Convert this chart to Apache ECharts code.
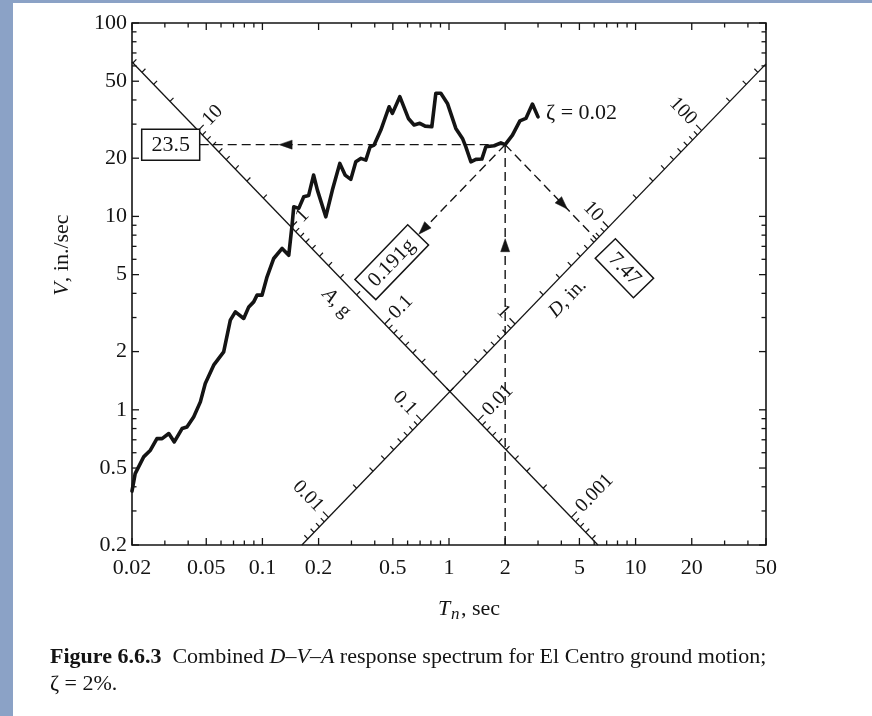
<!DOCTYPE html>
<html>
<head>
<meta charset="utf-8">
<script src="https://cdn.jsdelivr.net/npm/echarts@6.0.0/dist/echarts.min.js"></script>
<style>
html,body{margin:0;padding:0;}
body{width:872px;height:716px;background:#8ba2c6;position:relative;overflow:hidden;}
#paper{position:absolute;left:13px;top:3px;width:859px;height:713px;background:#ffffff;}
#chart{position:absolute;left:0;top:0;width:872px;height:716px;}
</style>
</head>
<body>
<div id="paper"></div>
<div id="chart"></div>
<script>
// ---- data ----
const periods = [0.02,0.0208,0.0231,0.0251,0.0272,0.0290,0.0315,0.0337,0.0371,0.0394,0.0428,0.0465,0.0494,0.0548,0.0620,0.0673,0.0716,0.0794,0.0845,0.0898,0.0936,0.0995,0.1059,0.1150,0.1275,0.1384,0.1442,0.1472,0.1566,0.1666,0.1768,0.1880,0.1971,0.2186,0.2371,0.2599,0.2775,0.2977,0.3166,0.3366,0.3582,0.3777,0.3969,0.4312,0.4775,0.4974,0.5450,0.6059,0.650,0.6977,0.745,0.809,0.850,0.904,0.981,1.088,1.181,1.231,1.310,1.393,1.500,1.576,1.746,1.897,2.0,2.188,2.399,2.583,2.80,3.0];
const velocities = [0.38,0.468,0.571,0.618,0.710,0.710,0.754,0.682,0.80,0.815,0.919,1.099,1.368,1.701,1.993,2.907,3.21,2.967,3.405,3.615,3.916,3.916,4.87,6.06,6.83,6.30,9.02,11.21,11.0,12.63,12.81,16.36,13.68,9.95,13.68,18.8,16.36,15.54,19.16,19.95,19.55,22.91,23.38,27.96,36.9,34.1,41.6,32.1,29.7,30.3,29.3,29.1,43.3,43.3,38.4,28.5,25.3,22.9,19.16,19.72,19.79,22.9,23.2,24.0,23.5,26.3,31.2,32.1,38.1,32.7];

const xTickValues = [0.02,0.05,0.1,0.2,0.5,1,2,5,10,20,50];
const xTickLabels = ['0.02','0.05','0.1','0.2','0.5','1','2','5','10','20','50'];
const xMinorTicks = [0.03,0.04,0.06,0.07,0.08,0.09,0.3,0.4,0.6,0.7,0.8,0.9,3,4,6,7,8,9,30,40];
const yTickValues = [0.2,0.5,1,2,5,10,20,50,100];
const yTickLabels = ['0.2','0.5','1','2','5','10','20','50','100'];
const yMinorTicks = [0.3,0.4,0.6,0.7,0.8,0.9,3,4,6,7,8,9,30,40,60,70,80,90];

const accelAxisD = 0.2;      // in. : constant-D line that carries the A scale
const accelMajor = [10,1,0.1,0.01,0.001];
const accelLabels = ['10','1','0.1','0.01','0.001'];
const accelMinor = [50,40,30,20,9,8,7,6,5,4,3,2,0.9,0.8,0.7,0.6,0.5,0.4,0.3,0.2,0.09,0.08,0.07,0.06,0.05,0.04,0.03,0.02,0.009,0.008,0.007,0.006,0.005,0.004,0.003,0.002,0.0009,0.0008,0.0007,0.0006];

const dispAxisA = 0.02;      // g : constant-A line that carries the D scale
const dispMajor = [0.01,0.1,1,10,100];
const dispLabels = ['0.01','0.1','1','10','100'];
const dispMinor = [0.006,0.007,0.008,0.009,0.02,0.03,0.04,0.05,0.06,0.07,0.08,0.09,0.2,0.3,0.4,0.5,0.6,0.7,0.8,0.9,2,3,4,5,6,7,8,9,20,30,40,50,60,70,80,90,200,300,400];

const markPeriod = 2;
const markVelocity = 23.5;
const markVText = '23.5';
const markAText = '0.191g';
const markDText = '7.47';
const dampingText = 'ζ = 0.02';

// ---- drawing ----
const INK = '#141414';
const SERIF = "'Liberation Serif','Times New Roman','DejaVu Serif',serif";
const G = 386.09; // in/s^2 per g
const X_MIN = 0.02, X_MAX = 50, Y_MIN = 0.2, Y_MAX = 100;

function onAccel(ag){ const w = Math.sqrt(ag*G/accelAxisD); return [2*Math.PI/w, w*accelAxisD]; }
function onDisp(d){ const w = Math.sqrt(dispAxisA*G/d); return [2*Math.PI/w, w*d]; }
function inPlot(p){ return p[0] >= X_MIN*0.995 && p[0] <= X_MAX*1.005 && p[1] >= Y_MIN*0.995 && p[1] <= Y_MAX*1.005; }

function tstyle(text, o){
  o = o || {};
  const al = o.align || 'center', va = o.va || 'middle';
  const st = {
    text: text, fill: INK, textFill: INK,
    fontSize: o.size || 20, fontFamily: SERIF, fontStyle: o.fstyle || 'normal', fontWeight: o.weight || 'normal',
    align: al, textAlign: al, verticalAlign: va, textVerticalAlign: va
  };
  if (o.rich) st.rich = o.rich;
  return st;
}
function txt(x, y, text, o){
  o = o || {};
  return {type:'text', x:x, y:y, rotation:o.rot||0, style:tstyle(text,o), silent:true, z2:10};
}
function richTok(size, fstyle, weight){
  return {fill:INK, textFill:INK, fontSize:size, fontFamily:SERIF, fontStyle:fstyle||'normal', fontWeight:weight||'normal'};
}

function renderOverlay(params, api){
  const P = (t,v) => api.coord([t,v]);
  const ch = [];
  const line = (a,b,w,dash) => ch.push({type:'line', shape:{x1:a[0],y1:a[1],x2:b[0],y2:b[1]}, style:{stroke:INK, lineWidth:w, lineDash:dash||null, fill:null}, silent:true});
  const add = (p,u,s) => [p[0]+u[0]*s, p[1]+u[1]*s];
  const unit = (a,b) => { const dx=b[0]-a[0], dy=b[1]-a[1], L=Math.hypot(dx,dy); return [dx/L, dy/L]; };
  const arrow = (tip, dir, len, hw) => {
    const base = add(tip, dir, -len), pp = [-dir[1], dir[0]];
    ch.push({type:'polygon', shape:{points:[tip, add(base,pp,hw), add(base,pp,-hw)]}, style:{fill:INK, stroke:INK, lineWidth:0.5}, silent:true});
  };
  const box = (c, w, h, rot, text, size) => {
    ch.push({type:'rect', x:c[0], y:c[1], rotation:rot, shape:{x:-w/2, y:-h/2, width:w, height:h}, style:{fill:'#ffffff', stroke:INK, lineWidth:1.5}, silent:true, z2:5});
    ch.push(txt(c[0], c[1]+1, text, {size:size, rot:rot}));
  };

  const o = P(1,1);
  const ua = unit(o, P(10,10));    // direction of constant-A lines (up-right)
  const ud = unit(o, P(10,0.1));   // direction of constant-D lines (down-right)
  const angA = Math.atan2(-ua[1], ua[0]);
  const angD = Math.atan2(ud[1], ud[0]);
  const yB = P(1,Y_MIN)[1], yT = P(1,Y_MAX)[1], xL = P(X_MIN,1)[0], xR = P(X_MAX,1)[0];

  // frame ticks and tick labels
  xTickValues.forEach((t,i) => {
    const x = P(t,1)[0];
    line([x,yB],[x,yB-7],1.3); line([x,yT],[x,yT+7],1.3);
    ch.push(txt(x, yB+23, xTickLabels[i], {size:22}));
  });
  xMinorTicks.forEach(t => { const x = P(t,1)[0]; line([x,yB],[x,yB-4.5],1.3); line([x,yT],[x,yT+4.5],1.3); });
  yTickValues.forEach((v,i) => {
    const y = P(1,v)[1];
    line([xL,y],[xL+7,y],1.3); line([xR,y],[xR-7,y],1.3);
    ch.push(txt(xL-5, y, yTickLabels[i], {size:22, align:'right'}));
  });
  yMinorTicks.forEach(v => { const y = P(1,v)[1]; line([xL,y],[xL+4.5,y],1.3); line([xR,y],[xR-4.5,y],1.3); });

  // diagonal scale lines
  const Din = accelAxisD, Ain = dispAxisA*G;
  let t1 = Math.max(X_MIN, 2*Math.PI*Din/Y_MAX), t2 = Math.min(X_MAX, 2*Math.PI*Din/Y_MIN);
  line(P(t1, 2*Math.PI*Din/t1), P(t2, 2*Math.PI*Din/t2), 1.3);
  t1 = Math.max(X_MIN, 2*Math.PI*Y_MIN/Ain); t2 = Math.min(X_MAX, 2*Math.PI*Y_MAX/Ain);
  line(P(t1, Ain*t1/(2*Math.PI)), P(t2, Ain*t2/(2*Math.PI)), 1.3);

  // A scale ticks (toward upper right) and labels
  accelMinor.forEach(a => { const tv = onAccel(a); if (!inPlot(tv)) return; const p = P(tv[0],tv[1]); line(p, add(p,ua,5), 1.2); });
  accelMajor.forEach((a,i) => {
    const tv = onAccel(a); if (!inPlot(tv)) return; const p = P(tv[0],tv[1]);
    line(p, add(p,ua,8), 1.2);
    const q = add(p, ua, 11);
    ch.push(txt(q[0], q[1], accelLabels[i], {size:20, align:'left', rot:angA}));
  });
  // D scale ticks (toward upper left) and labels
  dispMinor.forEach(d => { const tv = onDisp(d); if (!inPlot(tv)) return; const p = P(tv[0],tv[1]); line(p, add(p,ud,-5), 1.2); });
  dispMajor.forEach((d,i) => {
    const tv = onDisp(d); if (!inPlot(tv)) return; const p = P(tv[0],tv[1]);
    line(p, add(p,ud,-8), 1.2);
    const q = add(p, ud, -12);
    ch.push(txt(q[0], q[1], dispLabels[i], {size:20, align:'right', rot:-angD}));
  });
  // scale names
  let tv = onAccel(0.23), p = P(tv[0],tv[1]);
  let q = add(p, [-ud[1], ud[0]], 20);
  ch.push(txt(q[0], q[1], '{i|A}{r|, g}', {size:20, rot:-angD, rich:{i:richTok(20,'italic'), r:richTok(20)}}));
  tv = onDisp(2.56); p = P(tv[0],tv[1]);
  q = add(p, [-ua[1], ua[0]], 20);
  ch.push(txt(q[0], q[1], '{i|D}{r|, in.}', {size:20, rot:angA, rich:{i:richTok(20,'italic'), r:richTok(20)}}));

  // read-off construction for T = 2 s
  const M = P(markPeriod, markVelocity);
  const markA = markVelocity*2*Math.PI/markPeriod/G;
  const markD = markVelocity*markPeriod/(2*Math.PI);
  const dash = [9,5];
  // vertical
  const bot = P(markPeriod, Y_MIN);
  line(bot, M, 1.4, dash);
  arrow([M[0], M[1] + 0.235*(bot[1]-M[1])], [0,-1], 13, 4.5);
  // horizontal to V scale box
  const hx = P(2*Math.PI*accelAxisD/markVelocity, markVelocity)[0];
  const boxR = hx - 12;
  line([boxR, M[1]], M, 1.4, dash);
  arrow([boxR + 0.26*(M[0]-boxR), M[1]], [-1,0], 13, 4.5);
  box([boxR-29, M[1]], 58, 31, 0, markVText, 22);
  // down-left along constant A to the A scale
  tv = onAccel(markA); const Pa = P(tv[0], tv[1]);
  line(M, add(Pa, ua, 86), 1.4, dash);
  arrow(add(Pa, ua, 87), [-ua[0], -ua[1]], 13, 4.5);
  box(add(Pa, ua, 48), 76, 29, angA, markAText, 21);
  // down-right along constant D to the D scale
  tv = onDisp(markD); const Pd = P(tv[0], tv[1]);
  line(M, Pd, 1.4, dash);
  arrow([M[0] + 0.68*(Pd[0]-M[0]), M[1] + 0.68*(Pd[1]-M[1])], ud, 13, 4.5);
  box(add(Pd, ud, 40), 55, 28, -angD, markDText, 21);

  // damping label at the end of the curve
  const last = P(periods[periods.length-1], velocities[velocities.length-1]);
  ch.push(txt(last[0]+8, last[1]-4, dampingText, {size:22, align:'left'}));

  return {type:'group', children:ch};
}

const chart = echarts.init(document.getElementById('chart'), null, {renderer:'canvas'});
const curve = periods.map((t,i) => [t, velocities[i]]);

chart.setOption({
  animation: false,
  backgroundColor: 'transparent',
  grid: {left:132, top:23, width:634, height:522, show:true, borderColor:INK, borderWidth:1.6, backgroundColor:'transparent'},
  xAxis: {type:'log', logBase:10, min:X_MIN, max:X_MAX, axisLine:{show:false}, axisTick:{show:false}, axisLabel:{show:false}, splitLine:{show:false}, minorTick:{show:false}},
  yAxis: {type:'log', logBase:10, min:Y_MIN, max:Y_MAX, axisLine:{show:false}, axisTick:{show:false}, axisLabel:{show:false}, splitLine:{show:false}, minorTick:{show:false}},
  series: [
    {type:'custom', renderItem: renderOverlay, data:[[1,1]], silent:true, z:2, clip:false},
    {type:'line', data: curve, showSymbol:false, symbol:'none', z:3, silent:true,
     lineStyle:{color:INK, width:3.6, join:'round', cap:'round'}}
  ],
  graphic: {elements: [
    {type:'text', x:62, y:255, rotation:Math.PI/2, silent:true,
     style:tstyle('{i|V}{r|, in./sec}', {size:22, rich:{i:richTok(22,'italic'), r:richTok(22)}})},
    {type:'text', x:438, y:609, silent:true, style:tstyle('T', {size:22, fstyle:'italic', align:'left'})},
    {type:'text', x:451, y:615, silent:true, style:tstyle('n', {size:17, fstyle:'italic', align:'left'})},
    {type:'text', x:461, y:609, silent:true, style:tstyle(', sec', {size:22, align:'left'})},
    {type:'text', x:50, y:657, silent:true,
     style:tstyle('{b|Figure 6.6.3}{r|  Combined }{i|D}{r|–}{i|V}{r|–}{i|A}{r| response spectrum for El Centro ground motion;}',
       {size:22, align:'left', rich:{b:richTok(22,'normal','bold'), r:richTok(22), i:richTok(22,'italic')}})},
    {type:'text', x:50, y:684, silent:true, style:tstyle('ζ = 2%.', {size:22, align:'left'})}
  ]}
});
</script>
</body>
</html>
